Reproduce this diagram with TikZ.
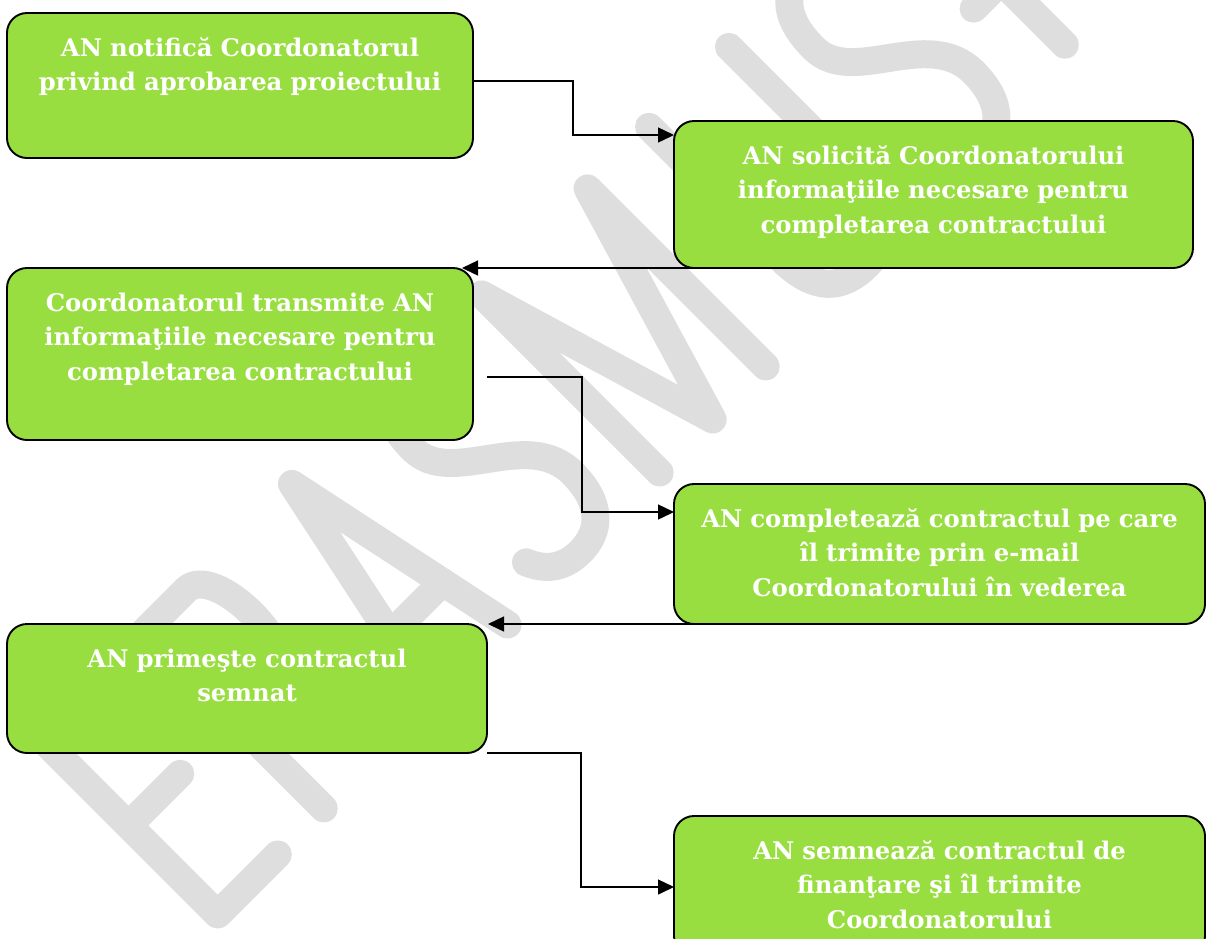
\documentclass[tikz,border=0pt]{standalone}
\usepackage{fontspec}
\setmainfont{DejaVu Serif}
\usetikzlibrary{arrows.meta,positioning}
\definecolor{boxgreen}{RGB}{153,222,64}
\definecolor{wmgray}{RGB}{222,222,222}
\tikzset{greenbox/.style={rectangle, draw=black, line width=1.9pt, fill=boxgreen, rounded corners=20pt, text=white, font=\bfseries\fontsize{24.3}{34.5}\selectfont, align=center, inner xsep=0pt, inner ysep=19pt, outer sep=0pt, text height=24pt, anchor=north west}}
\tikzset{link/.style={draw=black, line width=1.4pt, -{Triangle[length=16pt,width=15pt]}}}
\tikzset{wmark/.style={draw=wmgray, line width=28pt, line cap=round, line join=round}}
\begin{document}
\begin{tikzpicture}[x=1pt,y=-1pt]
\clip (0,0) rectangle (1207,938);
\begin{scope}[shift={(217,935)}, x={(0.7071pt,0.7071pt)}, y={(-0.7071pt,0.7071pt)}, wmark]
\draw (100,266) -- (15,266) -- (15,14) -- (100,14);
\draw (15,140) -- (88,140);
\draw (165,14) -- (165,266) -- (222,266) .. controls (262,266) and (262,140) .. (222,140) -- (165,140);
\draw (215,140) -- (262,14);
\draw (319,14) -- (372,266) -- (425,14);
\draw (335,90) -- (409,90);
\draw (572,238) .. controls (562,258) and (548,266) .. (528,266) .. controls (498,266) and (482,246) .. (482,205) .. controls (482,150) and (578,140) .. (578,75) .. controls (578,34) and (558,14) .. (528,14) .. controls (504,14) and (490,26) .. (482,45);
\draw (640,14) -- (640,266) -- (715,14) -- (790,266) -- (790,14);
\draw (877,266) -- (877,80) .. controls (877,30) and (900,14) .. (933,14) .. controls (966,14) and (990,30) .. (990,80) -- (990,266);
\draw (1139,238) .. controls (1129,258) and (1115,266) .. (1095,266) .. controls (1065,266) and (1049,246) .. (1049,205) .. controls (1049,150) and (1145,140) .. (1145,75) .. controls (1145,34) and (1125,14) .. (1095,14) .. controls (1071,14) and (1057,26) .. (1049,45);
\draw (1229,30) -- (1229,210);
\draw (1190,120) -- (1268,120);
\end{scope}
\node[greenbox, text width=466pt, text depth=83pt] (notif) at (7,13) {AN notifică Coordonatorul\\privind aprobarea proiectului};
\node[greenbox, text width=519pt, text depth=85pt] (solicit) at (674,121) {AN solicită Coordonatorului\\informaţiile necesare pentru\\completarea contractului};
\node[greenbox, text width=466pt, text depth=110pt] (transmit) at (7,268) {Coordonatorul transmite AN\\informaţiile necesare pentru\\completarea contractului};
\node[greenbox, text width=531pt, text depth=78pt] (complet) at (674,484) {AN completează contractul pe care\\îl trimite prin e-mail\\Coordonatorului în vederea};
\node[greenbox, text width=480pt, text depth=67pt] (primeste) at (7,624) {AN primeşte contractul\\semnat};
\node[greenbox, text width=531pt, text depth=78pt] (semneaza) at (674,816) {AN semnează contractul de\\finanţare şi îl trimite\\Coordonatorului};
\draw[link] ([yshift=-68pt]notif.north east) -- ++(100,0) |- ([yshift=-14pt]solicit.north west);
\draw[link] ([xshift=81pt]solicit.south west) -- ([xshift=-11pt]transmit.north east);
\draw[link] ([shift={(14pt,-23pt)}]transmit.east) -- ++(95,0) |- ([yshift=-28pt]complet.north west);
\draw[link] ([xshift=193pt]complet.south west) -- ([xshift=1pt]primeste.north east);
\draw[link] (primeste.south east) -- ++(94,0) |- ([yshift=-71pt]semneaza.north west);
\end{tikzpicture}
\end{document}
